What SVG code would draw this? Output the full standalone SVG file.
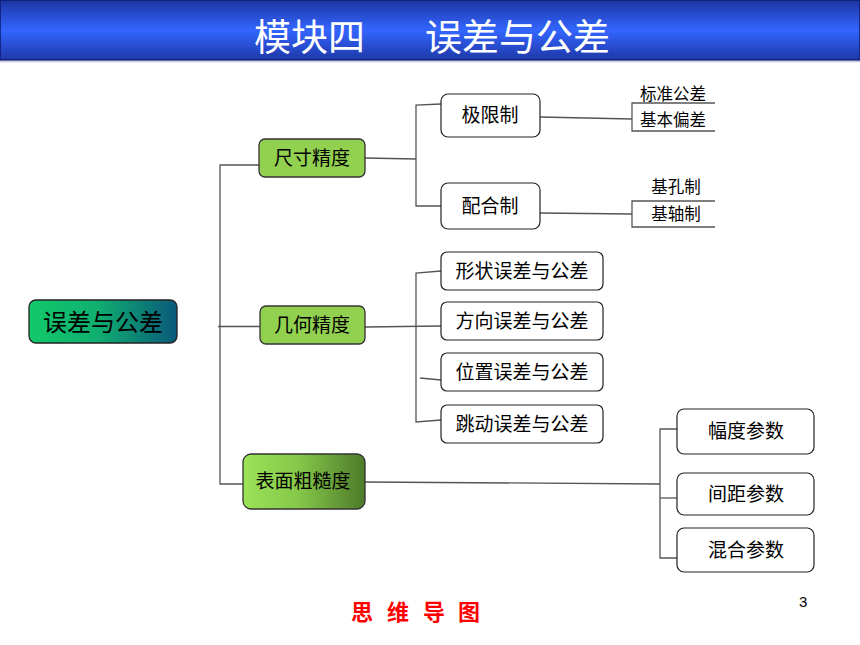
<svg xmlns="http://www.w3.org/2000/svg" width="860" height="645" viewBox="0 0 860 645">
<defs>
<linearGradient id="bar" x1="0" y1="0" x2="0" y2="1">
<stop offset="0" stop-color="#1c34a0"/>
<stop offset="0.5" stop-color="#3366ff"/>
<stop offset="1" stop-color="#1e38a8"/>
</linearGradient>
<linearGradient id="rootg" x1="0" y1="0" x2="1" y2="0">
<stop offset="0" stop-color="#12c96a"/>
<stop offset="0.45" stop-color="#10b070"/>
<stop offset="1" stop-color="#0a5a7a"/>
</linearGradient>
<linearGradient id="surfg" x1="0" y1="0" x2="1" y2="0">
<stop offset="0" stop-color="#9be357"/>
<stop offset="0.45" stop-color="#86c84a"/>
<stop offset="1" stop-color="#4e7a2a"/>
</linearGradient>
<style>
.t{font-family:"Noto Sans CJK SC","Noto Sans",sans-serif;fill:#000;text-anchor:middle;dominant-baseline:central}
.g{fill:#92d050;stroke:#333;stroke-width:1.3}
.w{fill:#fff;stroke:#222;stroke-width:1.2}
.c{fill:none;stroke:#555;stroke-width:1.3}
</style>
</defs>
<rect x="0" y="0" width="860" height="60" fill="url(#bar)" stroke="#0c1a70" stroke-width="1.5"/>
<line x1="0" y1="61.5" x2="860" y2="61.5" stroke="#c4c8e4" stroke-width="1.5"/>
<text font-family="Noto Sans CJK SC,sans-serif" font-size="37" fill="#fff" y="51"><tspan x="254">模块四</tspan><tspan x="425">误差与公差</tspan></text>

<g id="connectors" class="c">
<polyline points="274,165 220,165 220,484 243,484"/>
<line x1="218" y1="326.5" x2="260" y2="326.5"/>
<line x1="365" y1="158" x2="416" y2="159"/>
<polyline points="441,104 416,105 416,206 441,206"/>
<line x1="540" y1="117" x2="632" y2="119"/>
<polyline points="715,103 632,103 632,131 715,131"/>
<line x1="540" y1="213" x2="632" y2="214"/>
<polyline points="715,201 632,201 632,227 715,227"/>
<line x1="365" y1="327" x2="441" y2="326"/>
<polyline points="441,271 416,273 416,422 441,420"/>
<line x1="420" y1="378" x2="441" y2="380"/>
<line x1="365" y1="482" x2="660" y2="484"/>
<polyline points="677,429 660,429 660,558 677,558"/>
<line x1="660" y1="498" x2="677" y2="498"/>
</g>

<g id="root"><rect x="29" y="300" width="148" height="43" rx="7" fill="url(#rootg)" stroke="#222" stroke-width="1.3"/><text class="t" x="103" y="320.5" font-size="24">误差与公差</text></g>
<g id="n-size"><rect class="g" x="259" y="139" width="106" height="38" rx="6"/><text class="t" x="312" y="156.5" font-size="19">尺寸精度</text></g>
<g id="n-geo"><rect class="g" x="260" y="306" width="105" height="38" rx="6"/><text class="t" x="312" y="323.5" font-size="19">几何精度</text></g>
<g id="n-surf"><rect x="243" y="454" width="122" height="55" rx="8" fill="url(#surfg)" stroke="#333" stroke-width="1.3"/><text class="t" x="303" y="479.5" font-size="19">表面粗糙度</text></g>

<g id="n-limit"><rect class="w" x="441" y="94" width="99" height="43" rx="7"/><text class="t" x="490" y="113.5" font-size="19">极限制</text></g>
<g id="n-fit"><rect class="w" x="441" y="183" width="99" height="46" rx="7"/><text class="t" x="490" y="204.5" font-size="19">配合制</text></g>
<g id="l-std"><text class="t" x="673" y="93" font-size="16.5">标准公差</text></g>
<g id="l-dev"><text class="t" x="673" y="119" font-size="16.5">基本偏差</text></g>
<g id="l-hole"><text class="t" x="676" y="186" font-size="16.5">基孔制</text></g>
<g id="l-shaft"><text class="t" x="676" y="213" font-size="16.5">基轴制</text></g>

<g id="n-form"><rect class="w" x="441" y="252" width="162" height="38" rx="6"/><text class="t" x="522" y="269.5" font-size="19">形状误差与公差</text></g>
<g id="n-orient"><rect class="w" x="441" y="302" width="162" height="38" rx="6"/><text class="t" x="522" y="319.5" font-size="19">方向误差与公差</text></g>
<g id="n-pos"><rect class="w" x="441" y="353" width="162" height="38" rx="6"/><text class="t" x="522" y="370.5" font-size="19">位置误差与公差</text></g>
<g id="n-run"><rect class="w" x="441" y="405" width="162" height="38" rx="6"/><text class="t" x="522" y="422.5" font-size="19">跳动误差与公差</text></g>

<g id="n-amp"><rect class="w" x="677" y="409" width="137" height="45" rx="7"/><text class="t" x="746" y="429.5" font-size="19">幅度参数</text></g>
<g id="n-space"><rect class="w" x="677" y="473" width="137" height="42" rx="7"/><text class="t" x="746" y="492.5" font-size="19">间距参数</text></g>
<g id="n-mix"><rect class="w" x="677" y="528" width="137" height="44" rx="7"/><text class="t" x="746" y="548.5" font-size="19">混合参数</text></g>

<text font-family="Noto Sans CJK SC,sans-serif" font-size="22" font-weight="bold" fill="#ff0000" y="620" x="351 373 387 409 423 445 458">思 维 导 图</text>
<text font-family="Liberation Sans,Arial,sans-serif" font-size="15" fill="#000" x="799" y="607">3</text>
</svg>
